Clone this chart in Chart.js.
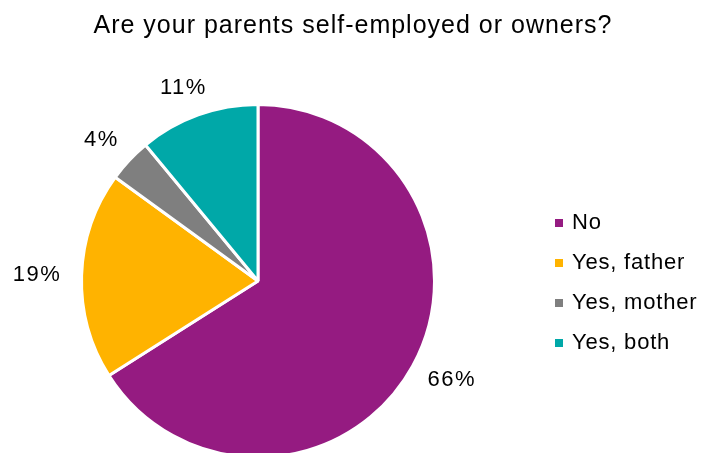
<!DOCTYPE html>
<html>
<head>
<meta charset="utf-8">
<script src="https://cdn.jsdelivr.net/npm/chart.js@4.4.1/dist/chart.umd.min.js"></script>
<style>
  html, body { margin: 0; padding: 0; background: #fff; overflow: hidden; }
  #wrap { width: 701px; height: 453px; overflow: hidden; }
  canvas { display: block; }
</style>
</head>
<body>
<div id="wrap"><canvas id="chart" width="701" height="460"></canvas></div>
<script>
var
    title      = 'Are your parents self-employed or owners?'
  , categories = ['No', 'Yes, father', 'Yes, mother', 'Yes, both']
  , shares     = [66, 19, 4, 11]
  , colors     = ['#951b81', '#ffb300', '#7f7f7f', '#00a8a8']

var chartText = ( function() {
  var FONT = '"Liberation Sans", Arial, Helvetica, sans-serif'

  var drawText = function (ctx, text, x, y, size, spacing, align) {
      ctx.save()
      ctx.font = size + 'px ' + FONT
      if ('letterSpacing' in ctx) ctx.letterSpacing = spacing + 'px'
      ctx.fillStyle = '#000'
      ctx.textAlign = align || 'center'
      ctx.textBaseline = 'middle'
      ctx.fillText(text, x, y)
      ctx.restore()
  }

  // percentages just outside each slice, pushed out along the mid angle
  , drawSliceLabels = function (chart) {
      var
          ctx    = chart.ctx
        , values = chart.data.datasets[0].data
        , total  = values.reduce(function (a, b) { return a + b }, 0)
        , arcs   = chart.getDatasetMeta(0).data

      for (var i = 0; i < arcs.length; i++) {
        var
            p    = arcs[i].getProps(['x', 'y', 'startAngle', 'endAngle', 'outerRadius'], true)
          , mid  = (p.startAngle + p.endAngle) / 2
          , text = Math.round(values[i] / total * 100) + '%'
          , w, r, cx, cy

        ctx.save()
        ctx.font = '22px ' + FONT
        w = ctx.measureText(text).width + 3
        ctx.restore()

        r  = p.outerRadius + 21
        cx = p.x + Math.cos(mid) * (r + w / 2)
        cy = p.y + Math.sin(mid) * (r + 8)
        drawText(ctx, text, cx, cy, 22, 1.5)
      }
  }

  , drawLegend = function (chart) {
      var
          ctx    = chart.ctx
        , labels = chart.data.labels
        , fills  = chart.data.datasets[0].backgroundColor
        , x      = 555
        , y      = 223
        , step   = 40

      for (var i = 0; i < labels.length; i++) {
        ctx.fillStyle = fills[i]
        ctx.fillRect(x, y + i * step - 4, 8, 8)
        drawText(ctx, labels[i], x + 17, y + i * step, 22, 0.8, 'left')
      }
  }

  return {
      id : 'chartText'
    , afterDatasetsDraw : function (chart) {
        drawText(chart.ctx, title, 353, 26, 25, 1)
        drawSliceLabels(chart)
        drawLegend(chart)
    }
  }
}() )

new Chart(document.getElementById('chart'), {
    type    : 'pie'
  , data    : {
        labels   : categories
      , datasets : [{
            data            : shares
          , backgroundColor : colors
          , borderColor     : '#fff'
          , borderWidth     : 3
        }]
    }
  , options : {
        responsive       : false
      , animation        : false
      , devicePixelRatio : 1
      , layout           : { padding: { left: 80, right: 265, top: 103, bottom: 1 } }
      , plugins          : {
            legend  : { display: false }
          , title   : { display: false }
          , tooltip : { enabled: false }
        }
    }
  , plugins : [chartText]
})
</script>
</body>
</html>
